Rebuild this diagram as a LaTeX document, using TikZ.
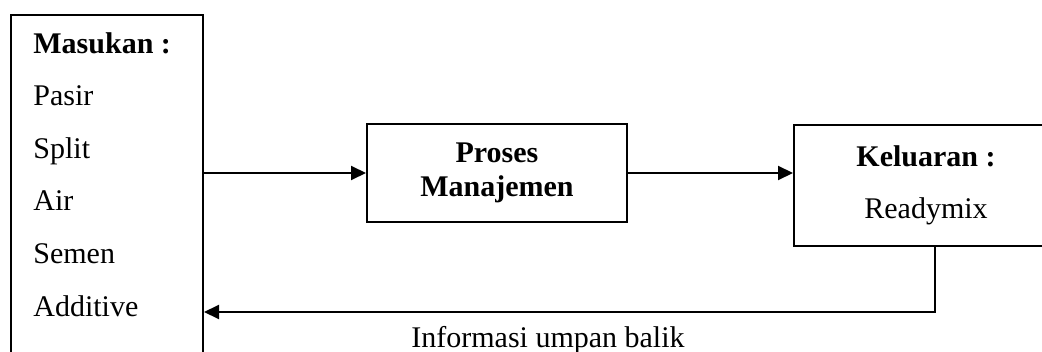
\documentclass[tikz,border=0pt]{standalone}
\usepackage{fontspec}
\setmainfont{Liberation Serif}
\usetikzlibrary{arrows.meta}

\begin{document}
\begin{tikzpicture}[x=0.5pt, y=-0.5pt,
    kotak/.style={draw, line width=1pt, inner sep=0pt, anchor=north west},
    panah/.style={-{Triangle[length=7.5pt, width=7pt]}, line width=1pt},
    teks/.style={font=\fontsize{15pt}{26.3pt}\selectfont, inner sep=0pt}]

% bidang gambar
\clip (0,0) rectangle (1042,352);

% ── Kotak masukan (bawahnya terpotong) ──────────────────────
\node[kotak, minimum width=96pt, minimum height=180pt] (masukan) at (10,14) {};
% baris terakhir jadi patokan (anchor base)
\node[teks, align=left, anchor=base west] (isi) at (33,316) {%
    \textbf{Masukan :}\\
    Pasir\\
    Split\\
    Air\\
    Semen\\
    Additive};

% ── Kotak proses ────────────────────────────────────────────
\node[kotak, minimum width=130pt, minimum height=49pt,
      teks, font=\bfseries\fontsize{15pt}{17pt}\selectfont, align=center]
    (proses) at (366,123) {Proses\\Manajemen};

% ── Kotak keluaran (kanannya terpotong) ─────────────────────
\node[kotak, minimum width=132pt, minimum height=60.5pt,
      teks, align=center]
    (keluaran) at (793,124) {\textbf{Keluaran :}\\Readymix};

% ── Panah ───────────────────────────────────────────────────
\draw[panah] (proses.west -| masukan.east) -- (proses.west);
\draw[panah] (proses.east) -- (proses.east -| keluaran.west);

% umpan balik
\coordinate (balik) at (0,312);
\draw[panah] ([xshift=4.5pt]keluaran.south) |- (balik -| masukan.east);
\node[teks, anchor=base] (umpan) at (548,347) {Informasi umpan balik};

\end{tikzpicture}
\end{document}
